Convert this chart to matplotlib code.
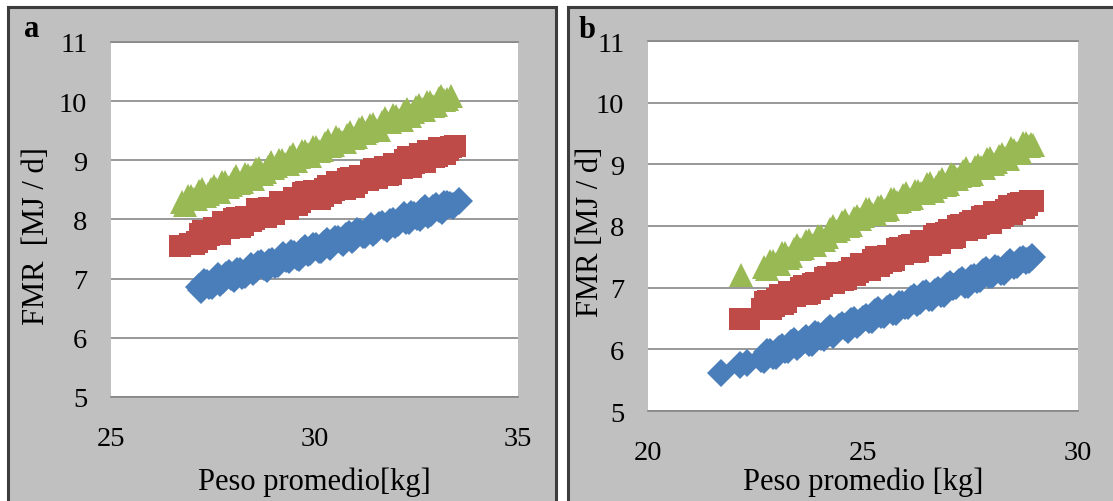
import matplotlib
matplotlib.use('Agg')
import matplotlib.pyplot as plt
from matplotlib.patches import Rectangle

plt.rcParams['font.family'] = ['Liberation Serif', 'DejaVu Serif']

# ---- panel a data (two staggered rows of markers read along each band) ----
a_blue_x = [27.15, 27.28, 27.42, 27.55, 27.68, 27.82, 27.95, 28.09, 28.22, 28.36,
            28.49, 28.62, 28.76, 28.89, 29.03, 29.16, 29.30, 29.43, 29.56, 29.70,
            29.83, 29.97, 30.10, 30.24, 30.37, 30.50, 30.64, 30.77, 30.91, 31.04,
            31.18, 31.31, 31.44, 31.58, 31.71, 31.85, 31.98, 32.12, 32.25, 32.38,
            32.52, 32.65, 32.79, 32.92, 33.06, 33.19, 33.33, 33.55]
a_blue_y = [6.86, 6.94, 6.88, 6.98, 6.92, 7.06, 7.02, 7.13, 7.05, 7.15,
            7.12, 7.25, 7.19, 7.29, 7.23, 7.34, 7.34, 7.43, 7.36, 7.46,
            7.44, 7.56, 7.49, 7.59, 7.53, 7.67, 7.63, 7.72, 7.66, 7.80,
            7.74, 7.82, 7.77, 7.91, 7.88, 7.96, 7.90, 8.01, 7.97, 8.10,
            8.05, 8.15, 8.08, 8.19, 8.17, 8.27, 8.24, 8.31]
a_blue_x2 = [27.22, 27.35, 27.49, 27.62, 27.75, 27.89, 28.02, 28.16, 28.29, 28.43,
             28.56, 28.69, 28.83, 28.96, 29.10, 29.23, 29.37, 29.50, 29.63, 29.77,
             29.90, 30.04, 30.17, 30.31, 30.44, 30.57, 30.71, 30.84, 30.98, 31.11,
             31.25, 31.38, 31.51, 31.65, 31.78, 31.92, 32.05, 32.19, 32.32, 32.45,
             32.59, 32.72, 32.86, 32.99, 33.13, 33.26, 33.40]
a_blue_y2 = [6.81, 6.93, 6.88, 7.04, 6.97, 7.09, 6.99, 7.13, 7.07, 7.22,
             7.16, 7.26, 7.17, 7.30, 7.24, 7.40, 7.32, 7.41, 7.35, 7.51,
             7.45, 7.56, 7.48, 7.64, 7.58, 7.67, 7.60, 7.75, 7.69, 7.79,
             7.73, 7.89, 7.83, 7.93, 7.84, 7.98, 7.94, 8.07, 7.98, 8.08,
             8.03, 8.19, 8.11, 8.23, 8.15, 8.27, 8.22]

a_red_x = [26.70, 26.95, 27.12, 27.26, 27.40, 27.54, 27.68, 27.82, 27.96, 28.10,
           28.24, 28.38, 28.52, 28.66, 28.80, 28.94, 29.08, 29.22, 29.36, 29.50,
           29.64, 29.78, 29.92, 30.06, 30.20, 30.34, 30.48, 30.62, 30.76, 30.90,
           31.04, 31.18, 31.32, 31.46, 31.60, 31.74, 31.88, 32.02, 32.16, 32.30,
           32.44, 32.58, 32.72, 32.86, 33.00, 33.14, 33.28, 33.45]
a_red_y = [7.56, 7.58, 7.62, 7.81, 7.73, 7.86, 7.75, 7.93, 7.89, 8.03,
           7.91, 8.04, 8.00, 8.16, 8.05, 8.20, 8.18, 8.30, 8.17, 8.36,
           8.29, 8.46, 8.34, 8.46, 8.39, 8.57, 8.50, 8.61, 8.51, 8.70,
           8.61, 8.72, 8.66, 8.85, 8.77, 8.88, 8.77, 8.93, 8.87, 9.05,
           8.96, 9.10, 8.97, 9.14, 9.08, 9.21, 9.17, 9.24]
a_red_x2 = [27.05, 27.19, 27.33, 27.47, 27.61, 27.75, 27.89, 28.03, 28.17, 28.31,
            28.45, 28.59, 28.73, 28.87, 29.01, 29.15, 29.29, 29.43, 29.57, 29.71,
            29.85, 29.99, 30.13, 30.27, 30.41, 30.55, 30.69, 30.83, 30.97, 31.11,
            31.25, 31.39, 31.53, 31.67, 31.81, 31.95, 32.09, 32.23, 32.37, 32.51,
            32.65, 32.79, 32.93, 33.07, 33.21, 33.36]
a_red_y2 = [7.59, 7.76, 7.67, 7.81, 7.76, 7.95, 7.85, 8.00, 7.88, 8.04,
            7.97, 8.17, 8.09, 8.20, 8.09, 8.29, 8.20, 8.30, 8.24, 8.44,
            8.36, 8.48, 8.35, 8.52, 8.45, 8.63, 8.56, 8.68, 8.55, 8.73,
            8.67, 8.82, 8.70, 8.83, 8.76, 8.93, 8.88, 9.01, 8.88, 9.05,
            8.97, 9.16, 9.06, 9.21, 9.11, 9.23]

a_green_x = [26.75, 26.89, 27.03, 27.17, 27.31, 27.45, 27.59, 27.73, 27.87, 28.01,
             28.15, 28.29, 28.43, 28.57, 28.71, 28.85, 28.99, 29.13, 29.27, 29.41,
             29.55, 29.69, 29.83, 29.97, 30.11, 30.25, 30.39, 30.53, 30.67, 30.81,
             30.95, 31.09, 31.23, 31.37, 31.51, 31.65, 31.79, 31.93, 32.07, 32.21,
             32.35, 32.49, 32.63, 32.77, 32.91, 33.05, 33.19, 33.35]
a_green_y = [8.30, 8.40, 8.34, 8.48, 8.39, 8.52, 8.51, 8.64, 8.55, 8.68,
             8.61, 8.77, 8.72, 8.85, 8.77, 8.89, 8.87, 9.01, 8.93, 9.05,
             8.99, 9.15, 9.11, 9.22, 9.15, 9.29, 9.25, 9.39, 9.31, 9.42,
             9.37, 9.53, 9.47, 9.60, 9.52, 9.65, 9.64, 9.77, 9.69, 9.81,
             9.75, 9.90, 9.86, 9.99, 9.92, 10.05, 10.02, 10.08]
a_green_x2 = [26.82, 26.96, 27.10, 27.24, 27.38, 27.52, 27.66, 27.80, 27.94, 28.08,
              28.22, 28.36, 28.50, 28.64, 28.78, 28.92, 29.06, 29.20, 29.34, 29.48,
              29.62, 29.76, 29.90, 30.04, 30.18, 30.32, 30.46, 30.60, 30.74, 30.88,
              31.02, 31.16, 31.30, 31.44, 31.58, 31.72, 31.86, 32.00, 32.14, 32.28,
              32.42, 32.56, 32.70, 32.84, 32.98, 33.12, 33.26]
a_green_y2 = [8.25, 8.39, 8.34, 8.51, 8.43, 8.57, 8.47, 8.63, 8.59, 8.73,
              8.64, 8.76, 8.69, 8.87, 8.80, 8.97, 8.90, 9.00, 8.93, 9.11,
              9.05, 9.16, 9.07, 9.22, 9.17, 9.34, 9.26, 9.36, 9.31, 9.48,
              9.40, 9.57, 9.50, 9.62, 9.52, 9.71, 9.64, 9.75, 9.69, 9.87,
              9.81, 9.93, 9.85, 9.98, 9.93, 10.09, 10.04]

# ---- panel b data ----
b_blue_x = [21.70, 22.13, 22.30, 22.62, 22.76, 22.90, 23.04, 23.18, 23.32, 23.46, 23.60,
            23.74, 23.88, 24.02, 24.16, 24.30, 24.44, 24.58, 24.72, 24.86, 25.00,
            25.14, 25.28, 25.42, 25.56, 25.70, 25.84, 25.98, 26.12, 26.26, 26.40,
            26.54, 26.68, 26.82, 26.96, 27.10, 27.24, 27.38, 27.52, 27.66, 27.80,
            27.94, 28.08, 28.22, 28.36, 28.50, 28.64, 28.78, 28.93]
b_blue_y = [5.61, 5.74, 5.78, 5.84, 5.95, 5.89, 6.00, 5.99, 6.11, 6.03, 6.14,
            6.11, 6.25, 6.20, 6.30, 6.24, 6.36, 6.36, 6.46, 6.39, 6.50,
            6.48, 6.61, 6.55, 6.65, 6.60, 6.74, 6.71, 6.81, 6.75, 6.90,
            6.84, 6.93, 6.89, 7.03, 7.01, 7.09, 7.04, 7.16, 7.12, 7.26,
            7.21, 7.32, 7.25, 7.37, 7.35, 7.45, 7.43, 7.49]
b_blue_x2 = [22.69, 22.83, 22.97, 23.11, 23.25, 23.39, 23.53, 23.67, 23.81, 23.95,
             24.09, 24.23, 24.37, 24.51, 24.65, 24.79, 24.93, 25.07, 25.21, 25.35,
             25.49, 25.63, 25.77, 25.91, 26.05, 26.19, 26.33, 26.47, 26.61, 26.75,
             26.89, 27.03, 27.17, 27.31, 27.45, 27.59, 27.73, 27.87, 28.01, 28.15,
             28.29, 28.43, 28.57, 28.71, 28.85]
b_blue_y2 = [5.82, 5.95, 5.89, 6.04, 5.99, 6.13, 6.08, 6.19, 6.10, 6.24,
             6.19, 6.35, 6.29, 6.39, 6.32, 6.48, 6.44, 6.53, 6.47, 6.64,
             6.56, 6.69, 6.61, 6.73, 6.70, 6.85, 6.79, 6.91, 6.83, 6.97,
             6.89, 7.06, 7.02, 7.12, 7.04, 7.17, 7.14, 7.29, 7.20, 7.31,
             7.26, 7.42, 7.37, 7.46, 7.45]

b_red_x = [22.15, 22.35, 22.65, 22.79, 22.93, 23.07, 23.21, 23.35, 23.49, 23.63, 23.77, 23.91,
           24.05, 24.19, 24.33, 24.47, 24.61, 24.75, 24.89, 25.03, 25.17, 25.31,
           25.45, 25.59, 25.73, 25.87, 26.01, 26.15, 26.29, 26.43, 26.57, 26.71,
           26.85, 26.99, 27.13, 27.27, 27.41, 27.55, 27.69, 27.83, 27.97, 28.11,
           28.25, 28.39, 28.53, 28.67, 28.81, 28.95]
b_red_y = [6.49, 6.50, 6.66, 6.79, 6.71, 6.88, 6.76, 6.91, 6.89, 7.03, 6.91, 7.07,
           7.02, 7.18, 7.08, 7.20, 7.14, 7.32, 7.26, 7.38, 7.29, 7.49,
           7.40, 7.51, 7.45, 7.64, 7.58, 7.70, 7.59, 7.75, 7.70, 7.87,
           7.80, 7.93, 7.82, 8.02, 7.94, 8.08, 8.04, 8.16, 8.05, 8.21,
           8.16, 8.32, 8.26, 8.37, 8.34, 8.40]
b_red_x2 = [22.72, 22.86, 23.00, 23.14, 23.28, 23.42, 23.56, 23.70, 23.84, 23.98,
            24.12, 24.26, 24.40, 24.54, 24.68, 24.82, 24.96, 25.10, 25.24, 25.38,
            25.52, 25.66, 25.80, 25.94, 26.08, 26.22, 26.36, 26.50, 26.64, 26.78,
            26.92, 27.06, 27.20, 27.34, 27.48, 27.62, 27.76, 27.90, 28.04, 28.18,
            28.32, 28.46, 28.60, 28.74, 28.88]
b_red_y2 = [6.76, 6.66, 6.82, 6.74, 6.93, 6.86, 6.99, 6.89, 7.06, 6.98,
            7.16, 7.10, 7.23, 7.12, 7.26, 7.21, 7.39, 7.31, 7.45, 7.35,
            7.48, 7.43, 7.62, 7.55, 7.67, 7.58, 7.76, 7.71, 7.83, 7.73,
            7.89, 7.81, 8.00, 7.93, 8.05, 7.96, 8.14, 8.07, 8.23, 8.13,
            8.26, 8.19, 8.35, 8.30, 8.40]

b_green_x = [22.16, 22.70, 22.84, 22.98, 23.12, 23.26, 23.40, 23.54, 23.68, 23.82, 23.96,
             24.10, 24.24, 24.38, 24.52, 24.66, 24.80, 24.94, 25.08, 25.22, 25.36,
             25.50, 25.64, 25.78, 25.92, 26.06, 26.20, 26.34, 26.48, 26.62, 26.76,
             26.90, 27.04, 27.18, 27.32, 27.46, 27.60, 27.74, 27.88, 28.02, 28.16,
             28.30, 28.44, 28.58, 28.72, 28.86, 28.95]
b_green_y = [7.20, 7.33, 7.44, 7.39, 7.56, 7.48, 7.62, 7.62, 7.76, 7.69, 7.84,
             7.78, 7.95, 7.92, 8.06, 8.00, 8.13, 8.12, 8.27, 8.19, 8.31,
             8.26, 8.43, 8.39, 8.50, 8.43, 8.57, 8.54, 8.68, 8.56, 8.71,
             8.67, 8.85, 8.77, 8.90, 8.82, 8.96, 8.95, 9.08, 9.00, 9.13,
             9.11, 9.26, 9.18, 9.35, 9.30, 9.32]
b_green_x2 = [22.77, 22.91, 23.05, 23.19, 23.33, 23.47, 23.61, 23.75, 23.89, 24.03,
              24.17, 24.31, 24.45, 24.59, 24.73, 24.87, 25.01, 25.15, 25.29, 25.43,
              25.57, 25.71, 25.85, 25.99, 26.13, 26.27, 26.41, 26.55, 26.69, 26.83,
              26.97, 27.11, 27.25, 27.39, 27.53, 27.67, 27.81, 27.95, 28.09, 28.23,
              28.37, 28.51, 28.65, 28.79, 28.90]
b_green_y2 = [7.30, 7.44, 7.39, 7.56, 7.52, 7.69, 7.64, 7.77, 7.70, 7.84,
              7.82, 8.00, 7.95, 8.09, 8.01, 8.17, 8.16, 8.28, 8.20, 8.33,
              8.28, 8.44, 8.40, 8.54, 8.46, 8.57, 8.53, 8.70, 8.63, 8.76,
              8.68, 8.82, 8.81, 8.94, 8.85, 8.99, 8.94, 9.10, 9.04, 9.16,
              9.08, 9.23, 9.20, 9.34, 9.33]

blue, red, green = '#4A7EBB', '#BE4B48', '#98B954'
W, H = 1113, 502

fig = plt.figure(figsize=(W / 100, H / 100), dpi=100)
fig.patch.set_facecolor('white')

# grey chart-area backgrounds
for x0, x1 in [(8, 556), (568, 1120)]:
    fig.add_artist(Rectangle((x0 / W, -0.05), (x1 - x0) / W, 1.05 - 8 / H,
                             transform=fig.transFigure, facecolor='#c0c0c0',
                             edgecolor='#3c3c3c', linewidth=2.2, zorder=-1))

ax_a = fig.add_axes([111 / W, 1 - 398 / H, 407 / W, 355 / H])
ax_b = fig.add_axes([648 / W, 1 - 412 / H, 430 / W, 370 / H])


def style(ax, xlim, xticks):
    ax.set_facecolor('white')
    ax.set_xlim(*xlim)
    ax.set_ylim(5, 11)
    ax.set_xticks(xticks)
    ax.set_yticks(range(5, 12))
    for s in ['left', 'right']:
        ax.spines[s].set_visible(False)
    for s in ['top', 'bottom']:
        ax.spines[s].set_color('#868686')
        ax.spines[s].set_linewidth(1.2)
    ax.yaxis.grid(True, color='#868686', linewidth=1.2)
    ax.set_axisbelow(True)
    ax.tick_params(axis='both', length=0, labelsize=20.5)
    ax.tick_params(axis='y', pad=17)
    ax.tick_params(axis='x', pad=21)


style(ax_a, (25, 35), [25, 30, 35])
style(ax_b, (20, 30), [20, 25, 30])

mk = dict(ls='none', mew=0)
ax_a.plot(a_blue_x + a_blue_x2, a_blue_y + a_blue_y2, marker='D', ms=14, color=blue, **mk)
ax_a.plot(a_red_x + a_red_x2, a_red_y + a_red_y2, marker='s', ms=15.5, color=red, **mk)
ax_a.plot(a_green_x + a_green_x2, a_green_y + a_green_y2, marker='^', ms=17, color=green, **mk)

ax_b.plot(b_blue_x + b_blue_x2, b_blue_y + b_blue_y2, marker='D', ms=14, color=blue, **mk)
ax_b.plot(b_red_x + b_red_x2, b_red_y + b_red_y2, marker='s', ms=15.5, color=red, **mk)
ax_b.plot(b_green_x + b_green_x2, b_green_y + b_green_y2, marker='^', ms=17, color=green, **mk)

ax_a.set_xlabel('Peso promedio[kg]', fontsize=22, va='center')
ax_a.xaxis.set_label_coords(0.5, (398 - 482) / 355)
ax_a.set_ylabel('FMR  [MJ / d]', fontsize=22, va='center')
ax_a.yaxis.set_label_coords((37 - 111) / 407, (398 - 236) / 355)

ax_b.set_xlabel('Peso promedio [kg]', fontsize=22, va='center')
ax_b.xaxis.set_label_coords(0.5, (412 - 482) / 370)
ax_b.set_ylabel('FMR [MJ / d]', fontsize=22, va='center')
ax_b.yaxis.set_label_coords((590 - 648) / 430, (412 - 232) / 370)

fig.text(32 / W, 1 - 30 / H, 'a', fontsize=22, fontweight='bold', ha='center', va='center')
fig.text(587 / W, 1 - 31 / H, 'b', fontsize=22, fontweight='bold', ha='center', va='center')

fig.savefig('out.png', dpi=100)
